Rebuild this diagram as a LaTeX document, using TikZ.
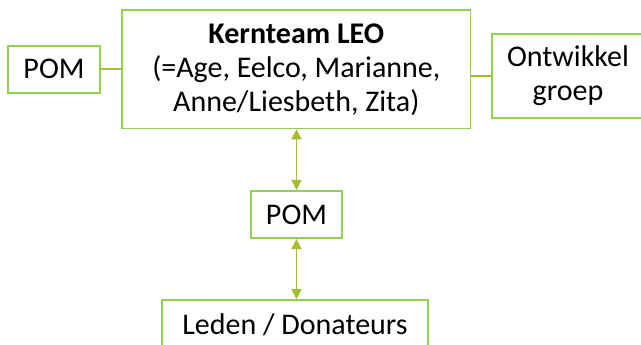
\documentclass[tikz,border=0pt]{standalone}
\usepackage{fontspec}
\setmainfont{Carlito}
\usetikzlibrary{arrows.meta}
\definecolor{boxgreen}{RGB}{146,208,80}
\definecolor{linegreen}{RGB}{160,190,45}
\begin{document}
\begin{tikzpicture}[x=1pt,y=1pt,
  box/.style={draw=boxgreen, line width=1.6pt, align=center, inner sep=0pt,
    font=\fontsize{30}{34}\selectfont, text=black},
  conn/.style={draw=linegreen, line width=1.6pt},
  arr/.style={conn, {Triangle[length=10pt,width=10pt]}-{Triangle[length=10pt,width=10pt]}}]
\useasboundingbox (0,0) rectangle (641,-345);
\clip (0,0) rectangle (641,-345);
\node[box, minimum width=92pt, minimum height=47pt] (pomL) at (54,-69.3) {POM};
\node[box, minimum width=348.5pt, minimum height=118.5pt] (kern) at (296.3,-69.3)
  {\textbf{Kernteam LEO}\\(=Age, Eelco, Marianne,\\Anne/Liesbeth, Zita)};
\node[box, minimum width=152pt, minimum height=84pt] (ontw) at (568,-76) {Ontwikkel\\groep};
\node[box, minimum width=91pt, minimum height=47.5pt] (pomM) at (296.5,-214.5) {POM};
\node[box, minimum width=266pt, minimum height=50pt] (leden) at (295,-325) {Leden / Donateurs};
\draw[conn] (pomL.east) -- (kern.west);
\draw[conn] (ontw.west) -- (kern.east |- ontw.west);
\draw[arr] (kern.south -| pomM.north) -- (pomM.north);
\draw[arr] (pomM.south) -- (pomM.south |- leden.north);
\end{tikzpicture}
\end{document}
